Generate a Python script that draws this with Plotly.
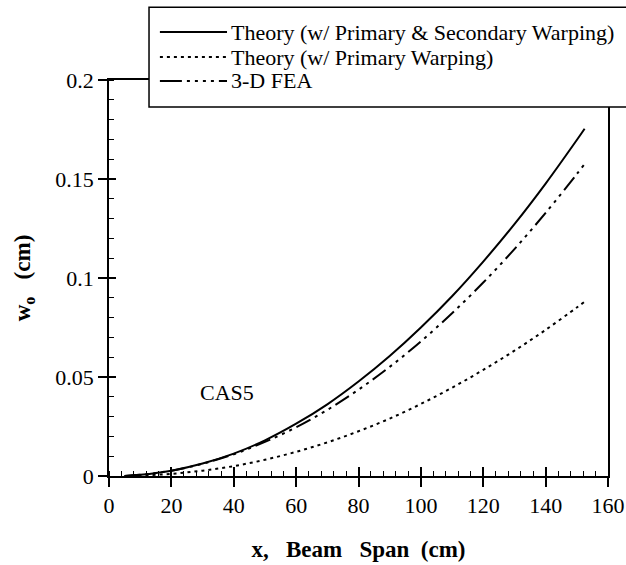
import plotly.graph_objects as go

# x positions along beam span (cm)
x_span = [5, 10, 20, 30, 40, 50, 60, 70, 80, 90, 100, 110, 120, 130, 140, 150, 152.5]

# Theory (w/ Primary & Secondary Warping)
w_theory_ps = [0.0, 0.0006, 0.0027, 0.0063, 0.0113, 0.0180, 0.0264, 0.0362, 0.0477,
               0.0606, 0.0750, 0.0908, 0.1083, 0.1272, 0.1477, 0.1697, 0.1754]
# Theory (w/ Primary Warping)
w_theory_p = [0.0, 0.0002, 0.0011, 0.0027, 0.0050, 0.0082, 0.0122, 0.0170, 0.0226,
              0.0290, 0.0364, 0.0446, 0.0536, 0.0633, 0.0738, 0.0851, 0.0880]
# 3-D FEA
w_fea = [0.0, 0.0006, 0.0027, 0.0062, 0.0110, 0.0172, 0.0246, 0.0334, 0.0436,
         0.0551, 0.0680, 0.0822, 0.0977, 0.1146, 0.1329, 0.1525, 0.1576]

names = ["Theory (w/ Primary &amp; Secondary Warping)",
         "Theory (w/ Primary Warping)",
         "3-D FEA"]
dashes = ["solid", "3px,4px", "16px,5px,3px,5px,3px,5px,3px,5px"]
legend_dashes = ["solid", "3px,4px", "22px,5px,3px,5px,3px,5px,3px,5px,3px,5px"]

x_ticks = [0, 20, 40, 60, 80, 100, 120, 140, 160]
y_ticks = [0, 0.05, 0.1, 0.15, 0.2]
y_tick_text = ["0", "0.05", "0.1", "0.15", "0.2"]

FONT = "Liberation Serif"

fig = go.Figure()
for yv, nm, ds in zip([w_theory_ps, w_theory_p, w_fea], names, dashes):
    fig.add_trace(go.Scatter(x=x_span, y=yv, mode="lines", name=nm, line_shape="spline",
                             line=dict(color="black", width=2, dash=ds)))
# invisible trace to host the overlay axes (crossing major ticks)
fig.add_trace(go.Scatter(x=[0], y=[0], xaxis="x2", yaxis="y2", mode="markers",
                         marker=dict(opacity=0), showlegend=False, hoverinfo="skip"))

fig.add_annotation(x=37.7, y=0.0424, text="CAS5", showarrow=False,
                   font=dict(family=FONT, size=22, color="black"))

# legend box (drawn manually for compact row spacing)
fig.add_shape(type="rect", xref="paper", yref="paper", x0=0.0802, x1=1.2, y0=0.932, y1=1.184,
              fillcolor="white", line=dict(color="black", width=1.5), layer="above")
row_y = [1.121, 1.058, 0.9975]
for ry, nm, ds in zip(row_y, names, legend_dashes):
    fig.add_shape(type="line", xref="paper", yref="paper", x0=0.102, x1=0.2365, y0=ry, y1=ry,
                  line=dict(color="black", width=2, dash=ds), layer="above")
    fig.add_annotation(xref="paper", yref="paper", x=0.2405, y=ry, xanchor="left",
                       yanchor="middle", text=nm, showarrow=False,
                       font=dict(family=FONT, size=22, color="black"))

axis_common = dict(showgrid=False, zeroline=False, linecolor="black", linewidth=1.5,
                   mirror=True, showline=True, ticks="outside", ticklen=9,
                   tickwidth=1.5, tickcolor="black", automargin=False,
                   tickfont=dict(family=FONT, size=22, color="black"))
overlay_common = dict(showticklabels=False, ticks="inside", tickwidth=1.5,
                      tickcolor="black", showgrid=False, zeroline=False,
                      showline=False, automargin=False)

fig.update_layout(
    width=626, height=565,
    margin=dict(l=109, r=18, t=80, b=89, autoexpand=False),
    plot_bgcolor="white", paper_bgcolor="white",
    font=dict(family=FONT, color="black"),
    xaxis=dict(range=[0, 160], tickvals=x_ticks,
               minor=dict(dtick=4, ticks="inside", ticklen=5, tickwidth=1, tickcolor="black"),
               title=dict(text="<b>x,&nbsp;&nbsp; Beam&nbsp;&nbsp; Span&nbsp; (cm)</b>",
                          standoff=24, font=dict(family=FONT, size=23, color="black")),
               **axis_common),
    yaxis=dict(range=[0, 0.2], tickvals=y_ticks, ticktext=y_tick_text,
               minor=dict(dtick=0.01, ticks="inside", ticklen=5, tickwidth=1, tickcolor="black"),
               title=dict(text="<b>w<sub>o</sub>&nbsp;&nbsp; (cm)</b>", standoff=18,
                          font=dict(family=FONT, size=23, color="black")),
               **axis_common),
    xaxis2=dict(range=[0, 160], overlaying="x", anchor="y", side="bottom",
                tickvals=x_ticks, ticklen=9, **overlay_common),
    yaxis2=dict(range=[0, 0.2], overlaying="y", anchor="x", side="left",
                tickvals=y_ticks, ticklen=7, **overlay_common),
    showlegend=False,
)

fig.write_html("out.html")
